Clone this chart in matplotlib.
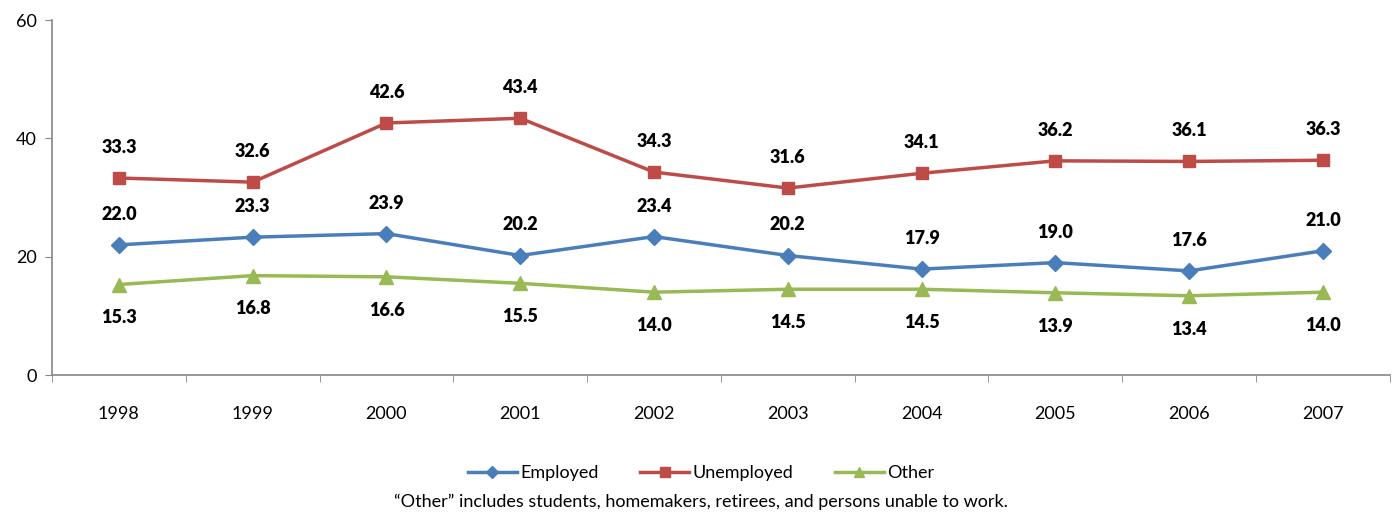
import matplotlib
matplotlib.use("Agg")
import matplotlib.pyplot as plt
from matplotlib.lines import Line2D

plt.rcParams['font.family'] = ['Lato', 'DejaVu Sans']

years = ['1998', '1999', '2000', '2001', '2002', '2003', '2004', '2005', '2006', '2007']
employed = [22.0, 23.3, 23.9, 20.2, 23.4, 20.2, 17.9, 19.0, 17.6, 21.0]
unemployed = [33.3, 32.6, 42.6, 43.4, 34.3, 31.6, 34.1, 36.2, 36.1, 36.3]
other = [15.3, 16.8, 16.6, 15.5, 14.0, 14.5, 14.5, 13.9, 13.4, 14.0]
y_ticks = [0, 20, 40, 60]

c_emp = '#4A7EBB'
c_une = '#BE4B48'
c_oth = '#98B954'

fig = plt.figure(figsize=(13.94, 5.15), dpi=100)
ax = fig.add_axes([0.0373, 0.2718, 0.9597, 0.6893])

x = list(range(len(years)))
ax.plot(x, employed, color=c_emp, lw=2.5, marker='D', ms=8, label='Employed')
ax.plot(x, unemployed, color=c_une, lw=2.5, marker='s', ms=9, label='Unemployed')
ax.plot(x, other, color=c_oth, lw=2.5, marker='^', ms=10, label='Other')

for xi, v in zip(x, employed):
    ax.annotate(f'{v:.1f}', (xi, v), xytext=(0, 22), textcoords='offset points',
                ha='center', va='center', fontsize=13, fontweight='heavy')
for xi, v in zip(x, unemployed):
    ax.annotate(f'{v:.1f}', (xi, v), xytext=(0, 22), textcoords='offset points',
                ha='center', va='center', fontsize=13, fontweight='heavy')
for xi, v in zip(x, other):
    ax.annotate(f'{v:.1f}', (xi, v), xytext=(0, -24), textcoords='offset points',
                ha='center', va='center', fontsize=13, fontweight='heavy')

ax.set_xlim(-0.5, len(years) - 0.5)
ax.set_ylim(0, 60)
ax.set_yticks(y_ticks)
ax.set_yticklabels([str(t) for t in y_ticks], fontsize=13)
ax.set_xticks(x)
ax.set_xticklabels(years, fontsize=13)
ax.set_xticks([i - 0.5 for i in range(len(years) + 1)], minor=True)
ax.tick_params(axis='x', which='major', length=0, pad=22)
ax.tick_params(axis='x', which='minor', length=5, color='#868686', direction='out')
ax.tick_params(axis='y', length=5, color='#868686', direction='out', pad=6)

for s in ['top', 'right']:
    ax.spines[s].set_visible(False)
for s in ['left', 'bottom']:
    ax.spines[s].set_color('#868686')
    ax.spines[s].set_linewidth(1.2)

handles = [
    Line2D([0], [0], color=c_emp, lw=2.5, marker='D', ms=6),
    Line2D([0], [0], color=c_une, lw=2.5, marker='s', ms=7),
    Line2D([0], [0], color=c_oth, lw=2.5, marker='^', ms=7),
]
fig.legend(handles, ['Employed', 'Unemployed', 'Other'], loc='center',
           bbox_to_anchor=(0.503, 1 - 473 / 515), ncol=3, frameon=False,
           fontsize=13, handlelength=2.7, columnspacing=2.3, handletextpad=0.2)
fig.text(0.503, 1 - 502 / 515,
         '\u201cOther\u201d includes students, homemakers, retirees, and persons unable to work.',
         ha='center', va='center', fontsize=13)

fig.savefig('out.png', dpi=100)
